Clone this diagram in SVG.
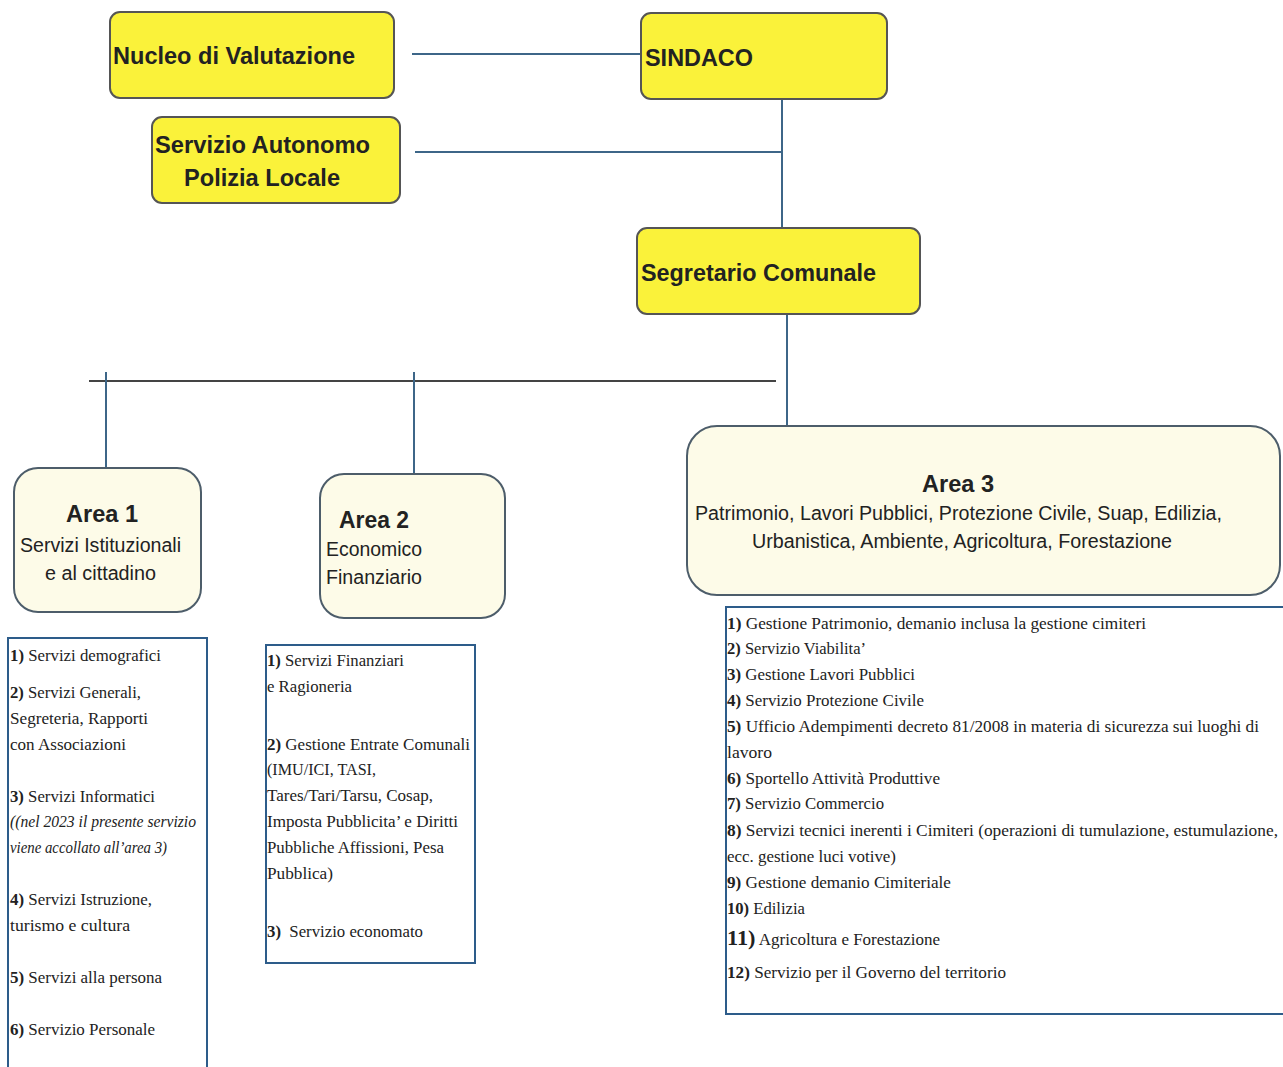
<svg xmlns="http://www.w3.org/2000/svg" width="1283" height="1067" viewBox="0 0 1283 1067">
<style>
.top{fill:#faf23a;stroke:#555;stroke-width:2}
.area{fill:#fdfbe8;stroke:#4d5d6a;stroke-width:2}
.list{fill:#fff;stroke:#2d5c8a;stroke-width:2}
.conn{stroke:#3d6688;stroke-width:2;fill:none}
.hb{font-family:"Liberation Sans",Arial,sans-serif;font-weight:bold;fill:#222}
.hn{font-family:"Liberation Sans",Arial,sans-serif;fill:#222}
.li{font-family:"Liberation Serif","Times New Roman",serif;font-size:16px;fill:#222}
.it{font-style:italic}
.n{font-weight:bold}
</style>
<rect width="1283" height="1067" fill="#fff"/>
<g id="connectors">
<line class="conn" x1="412" y1="54" x2="641" y2="54"/>
<line class="conn" x1="415" y1="152" x2="782" y2="152"/>
<line class="conn" x1="782" y1="99" x2="782" y2="228"/>
<line class="conn" x1="787" y1="314" x2="787" y2="426"/>
<line x1="89" y1="381" x2="776" y2="381" stroke="#444" stroke-width="2"/>
<line class="conn" x1="106" y1="372" x2="106" y2="468"/>
<line class="conn" x1="414" y1="372" x2="414" y2="474"/>
</g>
<g id="nucleo">
<rect class="top" x="110" y="12" width="284" height="86" rx="10"/>
<text class="hb" x="113" y="64" font-size="24" textLength="242" lengthAdjust="spacingAndGlyphs">Nucleo di Valutazione</text>
</g>
<g id="sindaco">
<rect class="top" x="641" y="13" width="246" height="86" rx="10"/>
<text class="hb" x="645" y="66" font-size="24" textLength="108" lengthAdjust="spacingAndGlyphs">SINDACO</text>
</g>
<g id="polizia">
<rect class="top" x="152" y="117" width="248" height="86" rx="10"/>
<text class="hb" x="155" y="153" font-size="24" textLength="215" lengthAdjust="spacingAndGlyphs">Servizio Autonomo</text>
<text class="hb" x="184" y="186" font-size="24" textLength="156" lengthAdjust="spacingAndGlyphs">Polizia Locale</text>
</g>
<g id="segretario">
<rect class="top" x="637" y="228" width="283" height="86" rx="10"/>
<text class="hb" x="641" y="281" font-size="24" textLength="235" lengthAdjust="spacingAndGlyphs">Segretario Comunale</text>
</g>
<g id="area1">
<rect class="area" x="14" y="468" width="187" height="144" rx="24"/>
<text class="hb" x="66" y="522" font-size="24" textLength="72" lengthAdjust="spacingAndGlyphs">Area 1</text>
<text class="hn" x="20" y="552" font-size="20" textLength="161" lengthAdjust="spacingAndGlyphs">Servizi Istituzionali</text>
<text class="hn" x="45" y="580" font-size="20" textLength="111" lengthAdjust="spacingAndGlyphs">e al cittadino</text>
</g>
<g id="area2">
<rect class="area" x="320" y="474" width="185" height="144" rx="24"/>
<text class="hb" x="339" y="528" font-size="24" textLength="70" lengthAdjust="spacingAndGlyphs">Area 2</text>
<text class="hn" x="326" y="556" font-size="20" textLength="96" lengthAdjust="spacingAndGlyphs">Economico</text>
<text class="hn" x="326" y="584" font-size="20" textLength="96" lengthAdjust="spacingAndGlyphs">Finanziario</text>
</g>
<g id="area3">
<rect class="area" x="687" y="426" width="593" height="169" rx="30"/>
<text class="hb" x="922" y="492" font-size="24" textLength="72" lengthAdjust="spacingAndGlyphs">Area 3</text>
<text class="hn" x="695" y="520" font-size="20" textLength="527" lengthAdjust="spacingAndGlyphs">Patrimonio, Lavori Pubblici, Protezione Civile, Suap, Edilizia,</text>
<text class="hn" x="752" y="548" font-size="20" textLength="420" lengthAdjust="spacingAndGlyphs">Urbanistica, Ambiente, Agricoltura, Forestazione</text>
</g>
<g id="list1">
<rect class="list" x="8" y="638" width="199" height="440"/>
<text class="li" x="10" y="661" textLength="151" lengthAdjust="spacingAndGlyphs"><tspan class="n">1)</tspan> Servizi demografici</text>
<text class="li" x="10" y="698" textLength="131" lengthAdjust="spacingAndGlyphs"><tspan class="n">2)</tspan> Servizi Generali,</text>
<text class="li" x="10" y="724" textLength="138" lengthAdjust="spacingAndGlyphs">Segreteria, Rapporti</text>
<text class="li" x="10" y="750" textLength="116" lengthAdjust="spacingAndGlyphs">con Associazioni</text>
<text class="li" x="10" y="802" textLength="145" lengthAdjust="spacingAndGlyphs"><tspan class="n">3)</tspan> Servizi Informatici</text>
<text class="li it" x="10" y="827" textLength="186" lengthAdjust="spacingAndGlyphs">((nel 2023 il presente servizio</text>
<text class="li it" x="10" y="853" textLength="157" lengthAdjust="spacingAndGlyphs">viene accollato all’area 3)</text>
<text class="li" x="10" y="905" textLength="142" lengthAdjust="spacingAndGlyphs"><tspan class="n">4)</tspan> Servizi Istruzione,</text>
<text class="li" x="10" y="931" textLength="120" lengthAdjust="spacingAndGlyphs">turismo e cultura</text>
<text class="li" x="10" y="983" textLength="152" lengthAdjust="spacingAndGlyphs"><tspan class="n">5)</tspan> Servizi alla persona</text>
<text class="li" x="10" y="1035" textLength="145" lengthAdjust="spacingAndGlyphs"><tspan class="n">6)</tspan> Servizio Personale</text>
</g>
<g id="list2">
<rect class="list" x="266" y="645" width="209" height="318"/>
<text class="li" x="267" y="666" textLength="137" lengthAdjust="spacingAndGlyphs"><tspan class="n">1)</tspan> Servizi Finanziari</text>
<text class="li" x="267" y="692" textLength="85" lengthAdjust="spacingAndGlyphs">e Ragioneria</text>
<text class="li" x="267" y="750" textLength="203" lengthAdjust="spacingAndGlyphs"><tspan class="n">2)</tspan> Gestione Entrate Comunali</text>
<text class="li" x="267" y="775" textLength="109" lengthAdjust="spacingAndGlyphs">(IMU/ICI, TASI,</text>
<text class="li" x="267" y="801" textLength="166" lengthAdjust="spacingAndGlyphs">Tares/Tari/Tarsu, Cosap,</text>
<text class="li" x="267" y="827" textLength="191" lengthAdjust="spacingAndGlyphs">Imposta Pubblicita’ e Diritti</text>
<text class="li" x="267" y="853" textLength="177" lengthAdjust="spacingAndGlyphs">Pubbliche Affissioni, Pesa</text>
<text class="li" x="267" y="879" textLength="66" lengthAdjust="spacingAndGlyphs">Pubblica)</text>
<text class="li" x="267" y="937" textLength="156" lengthAdjust="spacingAndGlyphs" xml:space="preserve"><tspan class="n">3)</tspan>  Servizio economato</text>
</g>
<g id="list3">
<rect class="list" x="726" y="607" width="570" height="407"/>
<text class="li" x="727" y="629" textLength="419" lengthAdjust="spacingAndGlyphs"><tspan class="n">1)</tspan> Gestione Patrimonio, demanio inclusa la gestione cimiteri</text>
<text class="li" x="727" y="654" textLength="139" lengthAdjust="spacingAndGlyphs"><tspan class="n">2)</tspan> Servizio Viabilita’</text>
<text class="li" x="727" y="680" textLength="188" lengthAdjust="spacingAndGlyphs"><tspan class="n">3)</tspan> Gestione Lavori Pubblici</text>
<text class="li" x="727" y="706" textLength="197" lengthAdjust="spacingAndGlyphs"><tspan class="n">4)</tspan> Servizio Protezione Civile</text>
<text class="li" x="727" y="732" textLength="532" lengthAdjust="spacingAndGlyphs"><tspan class="n">5)</tspan> Ufficio Adempimenti decreto 81/2008 in materia di sicurezza sui luoghi di</text>
<text class="li" x="727" y="758" textLength="45" lengthAdjust="spacingAndGlyphs">lavoro</text>
<text class="li" x="727" y="784" textLength="213" lengthAdjust="spacingAndGlyphs"><tspan class="n">6)</tspan> Sportello Attività Produttive</text>
<text class="li" x="727" y="809" textLength="157" lengthAdjust="spacingAndGlyphs"><tspan class="n">7)</tspan> Servizio Commercio</text>
<text class="li" x="727" y="836" textLength="551" lengthAdjust="spacingAndGlyphs"><tspan class="n">8)</tspan> Servizi tecnici inerenti i Cimiteri (operazioni di tumulazione, estumulazione,</text>
<text class="li" x="727" y="862" textLength="169" lengthAdjust="spacingAndGlyphs">ecc. gestione luci votive)</text>
<text class="li" x="727" y="888" textLength="224" lengthAdjust="spacingAndGlyphs"><tspan class="n">9)</tspan> Gestione demanio Cimiteriale</text>
<text class="li" x="727" y="914" textLength="78" lengthAdjust="spacingAndGlyphs"><tspan class="n">10)</tspan> Edilizia</text>
<text class="li" x="727" y="945" textLength="213" lengthAdjust="spacingAndGlyphs"><tspan class="n" font-size="21">11)</tspan> Agricoltura e Forestazione</text>
<text class="li" x="727" y="978" textLength="279" lengthAdjust="spacingAndGlyphs"><tspan class="n">12)</tspan> Servizio per il Governo del territorio</text>
</g>
</svg>
